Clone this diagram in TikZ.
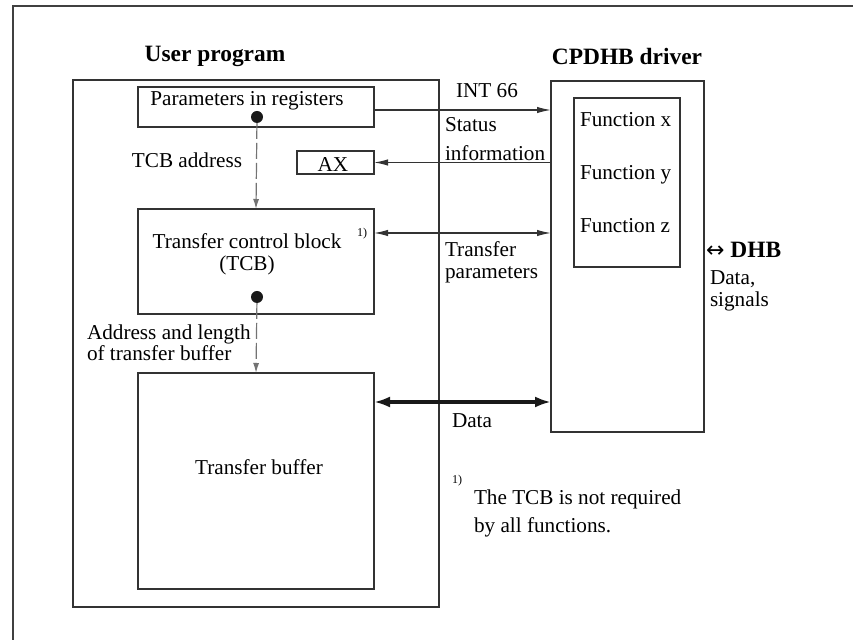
\documentclass[tikz,border=0pt]{standalone}
\usepackage{fontspec}
\setmainfont{Liberation Serif}
\newfontfamily\arrowfont{DejaVu Sans}
\usetikzlibrary{arrows.meta}

\begin{document}
\begin{tikzpicture}[
		x=0.5pt, y=-0.5pt,
		every node/.style={
			inner sep=0pt, outer sep=0pt,
			font=\fontsize{10.6}{11}\selectfont
		},
		heading/.style={anchor=base, font=\fontsize{11.7}{14}\selectfont\bfseries},
		block/.style={draw=black!80, line width=0.7pt, rectangle},
		frame/.style={draw=black!75, line width=0.8pt},
		hole/.style={circle, fill=black!90, minimum size=6pt},
		lbl/.style={anchor=base west},
		note/.style={anchor=base west, font=\fontsize{6}{7}\selectfont},
		call/.style={draw=black!80, line width=0.6pt, -{Latex[length=7pt,width=3.2pt]}},
		twoway/.style={call, {Latex[length=7pt,width=3.2pt]}-{Latex[length=7pt,width=3.2pt]}},
		pointer/.style={draw=black!55, line width=0.6pt, dash pattern=on 8pt off 2pt, -{Latex[length=5pt,width=3pt]}},
		bus/.style={draw=black!90, line width=2pt, {Latex[length=8pt,width=5.5pt]}-{Latex[length=8pt,width=5.5pt]}}
		]
		\useasboundingbox (0,0) rectangle (853,640);
		\draw[frame] (13,640) -- (13,6) -- (853,6);
		
		% user program side
		\node[heading] (usertitle) at (215,62) {User program};
		\node[block, minimum width=183pt, minimum height=263.5pt] (user) at (256,343.5) {};
		\node[block, minimum width=118pt, minimum height=20pt] (params) at (256,107) {};
		\node[anchor=base] (paramstext) at (247,106) {Parameters in registers};
		\node[hole] (paramsdot) at (257,117) {};
		\node[anchor=base] (tcbaddr) at (187,168) {TCB address};
		\node[block, minimum width=38.5pt, minimum height=11.5pt] (ax) at (335.5,162.5) {};
		\node[anchor=base] (axtext) at (333,172) {AX};
		\node[block, minimum width=118pt, minimum height=52.5pt] (tcb) at (256,261.5) {};
		\node[anchor=base, align=center] (tcbtext) at (247,271) {Transfer control block\\(TCB)};
		\node[note] (tcbnote) at (357,237) {1)};
		\node[hole] (tcbdot) at (257,297) {};
		\node[lbl, align=left, font=\fontsize{10.6}{8}\selectfont] (bufaddr) at (87,361) {Address and length\\of transfer buffer};
		\node[block, minimum width=118pt, minimum height=108pt] (buffer) at (256,481) {};
		\node[anchor=base] (buftext) at (259,475) {Transfer buffer};
		
		% driver side
		\node[heading] (drivertitle) at (627,65) {CPDHB driver};
		\node[block, minimum width=76.5pt, minimum height=175.5pt] (driver) at (627.5,256.5) {};
		\node[block, minimum width=53pt, minimum height=84.5pt] (funcs) at (627,182.5) {};
		\foreach \f [count=\i] in {x,y,z}
			\node[lbl] (func\f) at (580,74+53*\i) {Function \f};
		\node[lbl] (dhb) at (706,258) {{\arrowfont\fontsize{11}{12}\selectfont ↔}\hspace{3pt}{\fontsize{11.7}{14}\selectfont\bfseries DHB}};
		\node[lbl, align=left] (dhbdata) at (710,307) {Data,\\signals};
		
		% labels between
		\node[anchor=base] (inttext) at (487,98) {INT 66};
		\node[lbl, align=left, font=\fontsize{10.6}{14.5}\selectfont] (status) at (445,161) {Status\\information};
		\node[lbl, align=left] (tpartext) at (445,279) {Transfer\\parameters};
		\node[lbl] (datatext) at (452,428) {Data};
		\node[note] (footmark) at (452,484) {1)};
		\node[lbl, align=left, font=\fontsize{10.6}{14}\selectfont] (footnote) at (474,533) {The TCB is not required\\by all functions.};
		
		% connectors
		\draw[call] ([yshift=-1.5pt]params.east) -- ([yshift=-1.5pt]params.east -| driver.west);
		\draw[call] (driver.west |- ax.east) -- (ax.east);
		\draw[twoway] ([yshift=14.25pt]tcb.east) -- ([yshift=14.25pt]tcb.east -| driver.west);
		\draw[bus] ([yshift=39.5pt]buffer.east) -- ([yshift=39.5pt]buffer.east -| driver.west);
		\draw[pointer] (paramsdot) -- (tcb.north);
		\draw[pointer] (tcbdot) -- (buffer.north);
	\end{tikzpicture}
\end{document}
